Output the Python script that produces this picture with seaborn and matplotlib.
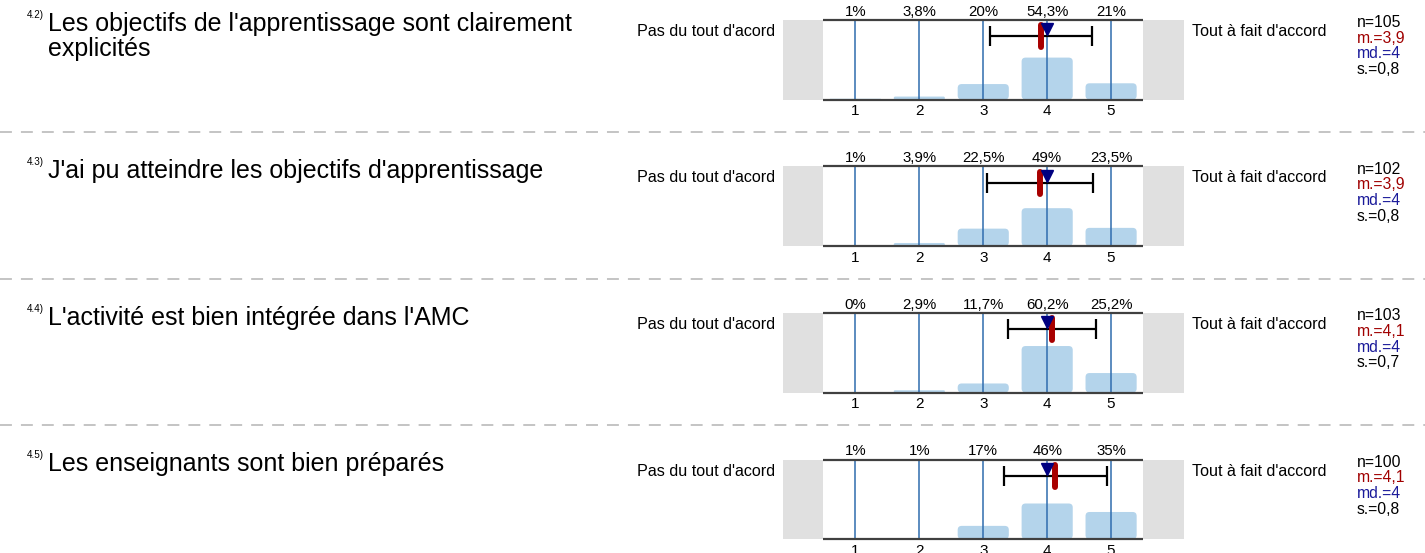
import numpy as np
import matplotlib.pyplot as plt
import seaborn as sns
from matplotlib.patches import FancyBboxPatch
from matplotlib.lines import Line2D

# data
scale = [1, 2, 3, 4, 5]
numbers = ["4.2)", "4.3)", "4.4)", "4.5)"]
questions = [
    "Les objectifs de l'apprentissage sont clairement\nexplicités",
    "J'ai pu atteindre les objectifs d'apprentissage",
    "L'activité est bien intégrée dans l'AMC",
    "Les enseignants sont bien préparés",
]
pct_42 = [1, 3.8, 20, 54.3, 21]
pct_43 = [1, 3.9, 22.5, 49, 23.5]
pct_44 = [0, 2.9, 11.7, 60.2, 25.2]
pct_45 = [1, 1, 17, 46, 35]
percents = [pct_42, pct_43, pct_44, pct_45]
n_resp = [105, 102, 103, 100]
means = [3.9, 3.89, 4.07, 4.13]
sds = [0.8, 0.83, 0.69, 0.8]
medians = [4, 4, 4, 4]
left_label = "Pas du tout d'acord"
right_label = "Tout à fait d'accord"

W, H = 1425, 553
sns.set_style("white")
plt.rcParams['font.family'] = ['Liberation Sans', 'DejaVu Sans']
plt.rcParams['text.color'] = 'black'
plt.rcParams['xtick.color'] = 'black'

fig = plt.figure(figsize=(W / 100, H / 100), dpi=100)


def px(x, y):
    return x / W, 1 - y / H


def fmt(v):
    return f"{v:g}".replace('.', ',')


bar_color = '#b4d4eb'
line_blue = '#2f6cae'
YMAX = 103
step = 146.5
xlo, xhi = 0.5 - 40.5 / 64, 5.5 + 41 / 64
asp = (YMAX / 79.5) * 64  # y units per x unit for equal pixels

for k in range(4):
    off = k * step
    top = 20 + off
    bottom = 99.5 + off
    ax = fig.add_axes([783 / W, 1 - bottom / H, (1184 - 783) / W, (bottom - top) / H])
    ax.set_xlim(xlo, xhi)
    ax.set_ylim(0, YMAX)

    sns.barplot(x=scale, y=percents[k], native_scale=True, color=bar_color,
                saturation=1, width=0.8, ax=ax)
    # rounded bar tops
    for bar in list(ax.patches):
        x0, y0 = bar.get_x(), bar.get_y()
        w, h = bar.get_width(), bar.get_height()
        bar.remove()
        if h <= 0:
            continue
        r = min(0.0625, h / asp / 2)
        ax.add_patch(FancyBboxPatch((x0, y0), w, h,
                                    boxstyle=f"round,pad=0,rounding_size={r}",
                                    mutation_aspect=asp, fc=bar_color, ec='none', zorder=1))

    ax.axvspan(xlo, 0.5, color='#e0e0e0', zorder=0, lw=0)
    ax.axvspan(5.5, xhi, color='#e0e0e0', zorder=0, lw=0)
    ax.vlines(scale, 0, YMAX, color=line_blue, lw=1.1, zorder=2)
    ax.hlines([0, YMAX], 0.5, 5.5, color='#404040', lw=1.6, zorder=3, clip_on=False)

    ax.errorbar(means[k], 82, xerr=sds[k], color='black', lw=1.6, capsize=7,
                capthick=1.6, zorder=4)
    ax.plot([means[k], means[k]], [68, 96], color='#a80000', lw=4.3,
            solid_capstyle='round', zorder=5)
    ax.plot(medians[k], 91, marker='v', color='#000080', ms=8, lw=0, zorder=6)

    for x, v in zip(scale, percents[k]):
        ax.annotate(fmt(v) + '%', (x, YMAX), xytext=(0, 3.2), textcoords='offset points',
                    ha='center', va='baseline', fontsize=10.8)

    ax.set_xticks(scale)
    ax.set_xticklabels([str(s) for s in scale], fontsize=11)
    ax.tick_params(axis='x', length=0, pad=3.5)
    ax.set_yticks([])
    for sp in ax.spines.values():
        sp.set_visible(False)

    # texts around the panel
    fig.text(*px(27, 18.5 + off), numbers[k], fontsize=7.1, va='baseline')
    fig.text(*px(48, 12.5 + off), questions[k], fontsize=18, va='top',
             linespacing=1.05)
    fig.text(*px(775, 36 + off), left_label, fontsize=11.6, ha='right', va='baseline')
    fig.text(*px(1192, 36 + off), right_label, fontsize=11.6, ha='left', va='baseline')

    stats = [(f"n={n_resp[k]}", 'black'),
             (f"m.={fmt(round(means[k], 1))}", '#a00000'),
             (f"md.={fmt(medians[k])}", '#1a1a9a'),
             (f"s.={fmt(round(sds[k], 1))}", 'black')]
    for j, (s, c) in enumerate(stats):
        fig.text(*px(1357, 27.3 + j * 15.6 + off), s, fontsize=11.3, color=c, va='baseline')

    if k < 3:
        y = 1 - (132 + off) / H
        fig.add_artist(Line2D([0, 1], [y, y], transform=fig.transFigure, color='#b4b4b4',
                              lw=1.1, linestyle=(0, (7.8, 5.9))))

fig.savefig('out.png', dpi=100)
